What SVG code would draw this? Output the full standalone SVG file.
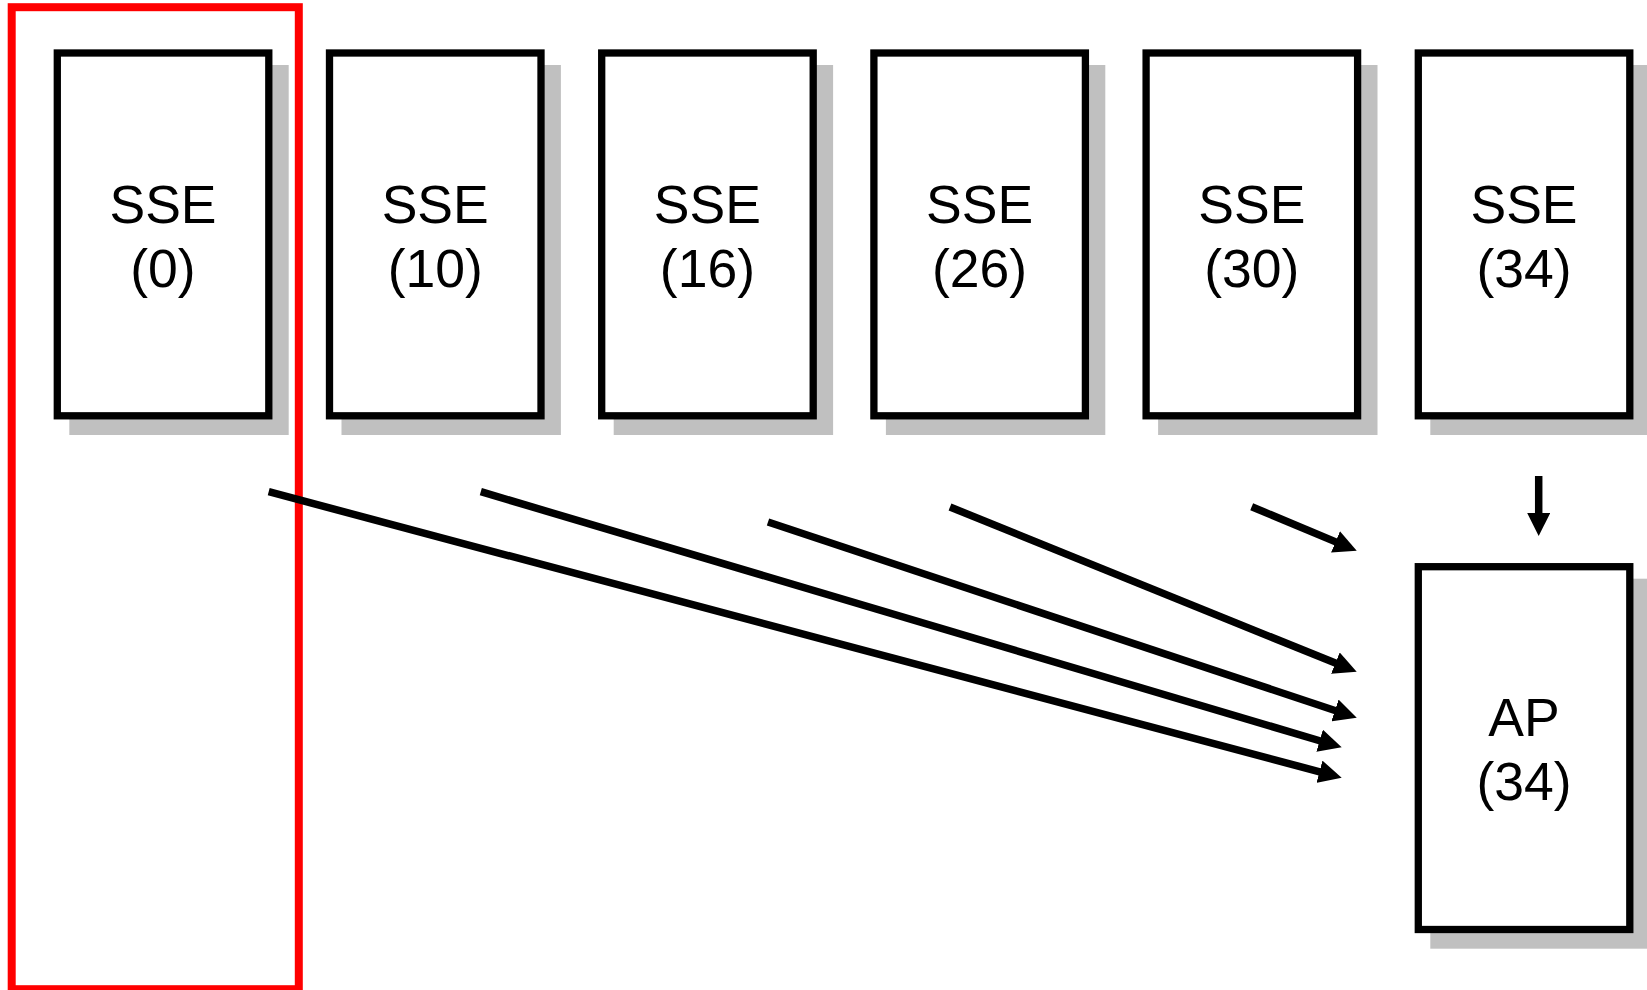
<svg xmlns="http://www.w3.org/2000/svg" width="1647" height="990" viewBox="0 0 1647 990">
<style>
.shadow{fill:#c0c0c0;stroke:none}
.box{fill:#ffffff;stroke:#000000;stroke-width:7.3}
.lbl{font-family:"Liberation Sans",Arial,sans-serif;font-size:53.5px;fill:#000000;text-anchor:middle}
.conn{stroke:#000000;stroke-width:7.5;fill:none;marker-end:url(#ah)}
.sel{fill:none;stroke:#ff0000;stroke-width:8}
</style>
<defs>
<marker id="ah" markerUnits="userSpaceOnUse" markerWidth="23" markerHeight="23" viewBox="0 0 23 23" refX="8" refY="11.5" orient="auto">
<path d="M0,0 L23,11.5 L0,23 z" fill="#000000"/>
</marker>
</defs>
<rect width="1647" height="990" fill="#ffffff"/>
<g id="sse0">
<rect class="shadow" x="69.3" y="65" width="219.4" height="370"/>
<rect class="box" x="57.3" y="53" width="211.5" height="362.8"/>
<text class="lbl" x="163" y="222.7">SSE</text>
<text class="lbl" x="163" y="286.7">(0)</text>
</g>
<g id="sse10">
<rect class="shadow" x="341.5" y="65" width="219.4" height="370"/>
<rect class="box" x="329.5" y="53" width="211.5" height="362.8"/>
<text class="lbl" x="435.2" y="222.7">SSE</text>
<text class="lbl" x="435.2" y="286.7">(10)</text>
</g>
<g id="sse16">
<rect class="shadow" x="613.7" y="65" width="219.4" height="370"/>
<rect class="box" x="601.7" y="53" width="211.5" height="362.8"/>
<text class="lbl" x="707.4" y="222.7">SSE</text>
<text class="lbl" x="707.4" y="286.7">(16)</text>
</g>
<g id="sse26">
<rect class="shadow" x="885.9" y="65" width="219.4" height="370"/>
<rect class="box" x="873.9" y="53" width="211.5" height="362.8"/>
<text class="lbl" x="979.6" y="222.7">SSE</text>
<text class="lbl" x="979.6" y="286.7">(26)</text>
</g>
<g id="sse30">
<rect class="shadow" x="1158.1" y="65" width="219.4" height="370"/>
<rect class="box" x="1146.1" y="53" width="211.5" height="362.8"/>
<text class="lbl" x="1251.8" y="222.7">SSE</text>
<text class="lbl" x="1251.8" y="286.7">(30)</text>
</g>
<g id="sse34">
<rect class="shadow" x="1430.3" y="65" width="219.4" height="370"/>
<rect class="box" x="1418.3" y="53" width="211.5" height="362.8"/>
<text class="lbl" x="1524" y="222.7">SSE</text>
<text class="lbl" x="1524" y="286.7">(34)</text>
</g>
<g id="ap34">
<rect class="shadow" x="1430.3" y="578.7" width="219.4" height="370"/>
<rect class="box" x="1418.3" y="566.7" width="211.5" height="362.8"/>
<text class="lbl" x="1524" y="736.3">AP</text>
<text class="lbl" x="1524" y="800.3">(34)</text>
</g>
<g id="selection">
<rect class="sel" x="11.7" y="7.2" width="287.1" height="982"/>
</g>
<g id="connectors">
<line class="conn" x1="268.7" y1="491.7" x2="1327.2" y2="773.8"/>
<line class="conn" x1="480.8" y1="491.7" x2="1327.3" y2="743.0"/>
<line class="conn" x1="768" y1="522" x2="1342.5" y2="713.0"/>
<line class="conn" x1="950" y1="507" x2="1342.8" y2="666.1"/>
<line class="conn" x1="1251.7" y1="506.7" x2="1342.9" y2="544.9"/>
<line class="conn" x1="1538.7" y1="476" x2="1538.7" y2="521"/>
</g>
</svg>
